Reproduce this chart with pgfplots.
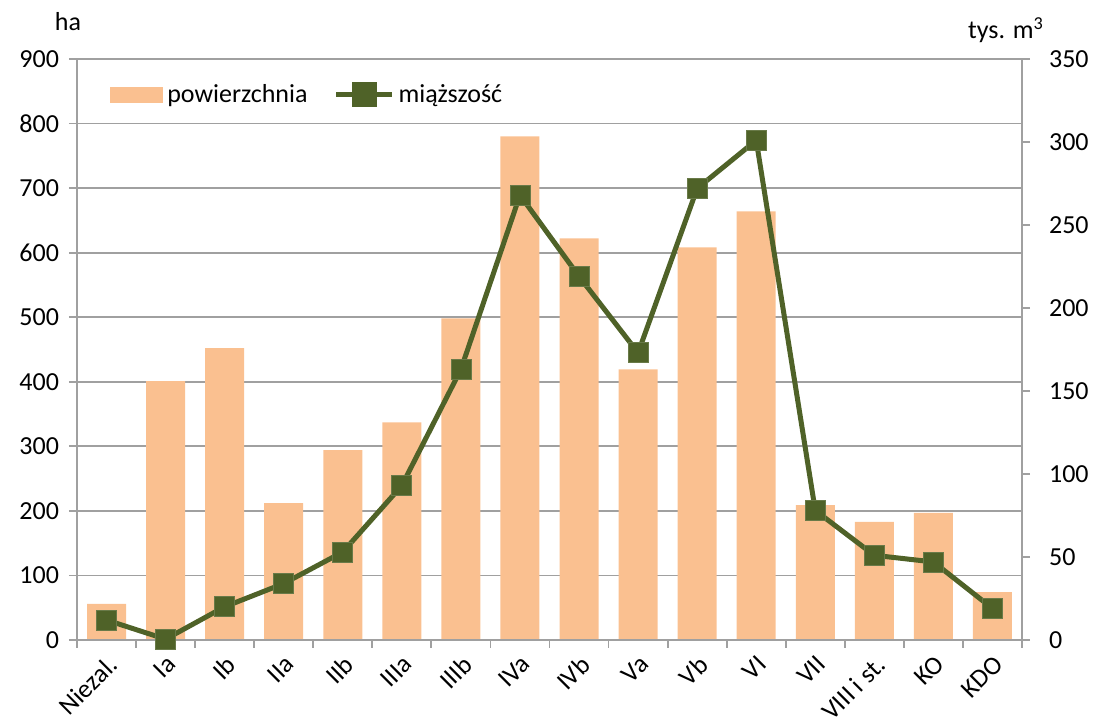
\documentclass[border=0pt]{standalone}
\usepackage{fontspec}
\setmainfont{Carlito}
\usepackage{pgfplots}
\pgfplotsset{compat=1.18}

\definecolor{barc}{HTML}{FAC090}
\definecolor{linec}{HTML}{4F6228}
\definecolor{gridc}{HTML}{A0A0A0}

\pgfplotsset{
    common/.style={
        scale only axis,
        width=472.5pt, height=290.5pt,
        xmin=-0.5, xmax=15.5,
        axis line style={draw=gridc, line width=0.9pt},
        tick align=outside,
        major tick length=4pt,
        tick style={draw=gridc, line width=0.9pt},
        /pgf/number format/assume math mode=true,
        ticklabel style={font=\fontsize{13}{15}\selectfont},
    }
}

\begin{document}
\begin{tikzpicture}[font=\fontsize{13}{15}\selectfont]
\begin{axis}[
    common,
    name=main,
    ymin=0, ymax=900,
    ytick={0,100,...,900},
    axis x line*=bottom,
    axis y line*=left,
    ymajorgrids,
    grid style={draw=gridc, line width=0.9pt},
    xtick={0,1,...,15},
    xticklabels={Niezal.,Ia,Ib,IIa,IIb,IIIa,IIIb,IVa,IVb,Va,Vb,VI,VII,VIII i st.,KO,KDO},
    xtick style={draw=none},
    xticklabel style={rotate=45, anchor=north east, inner sep=2pt},
    yticklabel style={xshift=-1.5pt},
    ybar, bar width=0.66, bar shift=0pt,
]
\addplot[fill=barc, draw=none] coordinates {
    (0,56) (1,401) (2,452) (3,212) (4,294) (5,337) (6,498) (7,780)
    (8,622) (9,419) (10,608) (11,664) (12,209) (13,183) (14,197) (15,74)};
\end{axis}
% tick marks between the categories
\begin{axis}[
    common,
    ymin=0, ymax=1,
    axis x line*=bottom,
    axis y line=none,
    xtick={-0.5,0.5,...,15.5},
    xticklabels={},
]
\end{axis}
\begin{axis}[
    common,
    ymin=0, ymax=350,
    ytick={0,50,...,350},
    axis x line=none,
    axis y line*=right,
    yticklabel style={xshift=6pt},
    clip=false,
    legend style={draw=none, fill=none, at={(rel axis cs:0.035,0.938)}, anchor=west,
        legend columns=2, inner sep=0pt, font=\fontsize{13}{15}\selectfont,
        /tikz/every even column/.append style={column sep=11pt}},
]
\addlegendimage{legend image code/.code={\fill[barc] (0pt,-3.75pt) rectangle (26pt,3.75pt);}}
\addlegendentry{powierzchnia}
\addplot[color=linec, line width=2.5pt, mark=square*,
    mark options={line width=0.4pt, fill=linec, draw=linec!85!white}, mark size=5pt,
    legend image code/.code={\draw[linec, line width=2.5pt] (0pt,0pt) -- (28pt,0pt);
        \fill[linec] (9pt,-5pt) rectangle (19pt,5pt);}]
coordinates {
    (0,12) (1,0.5) (2,20) (3,34) (4,53) (5,93) (6,163) (7,268)
    (8,219) (9,173) (10,272) (11,301) (12,78) (13,51) (14,47) (15,19)};
\addlegendentry{miąższość}
\end{axis}
\node at ([shift={(-4.5pt,18.5pt)}]main.north west) {ha};
\node at ([shift={(-8pt,14.5pt)}]main.north east) {tys. m\textsuperscript{3}};
\pgfresetboundingbox
\path ([shift={(-38.5pt,-43.5pt)}]main.south west) rectangle ([shift={(35.5pt,29.5pt)}]main.north east);
\end{tikzpicture}
\end{document}
